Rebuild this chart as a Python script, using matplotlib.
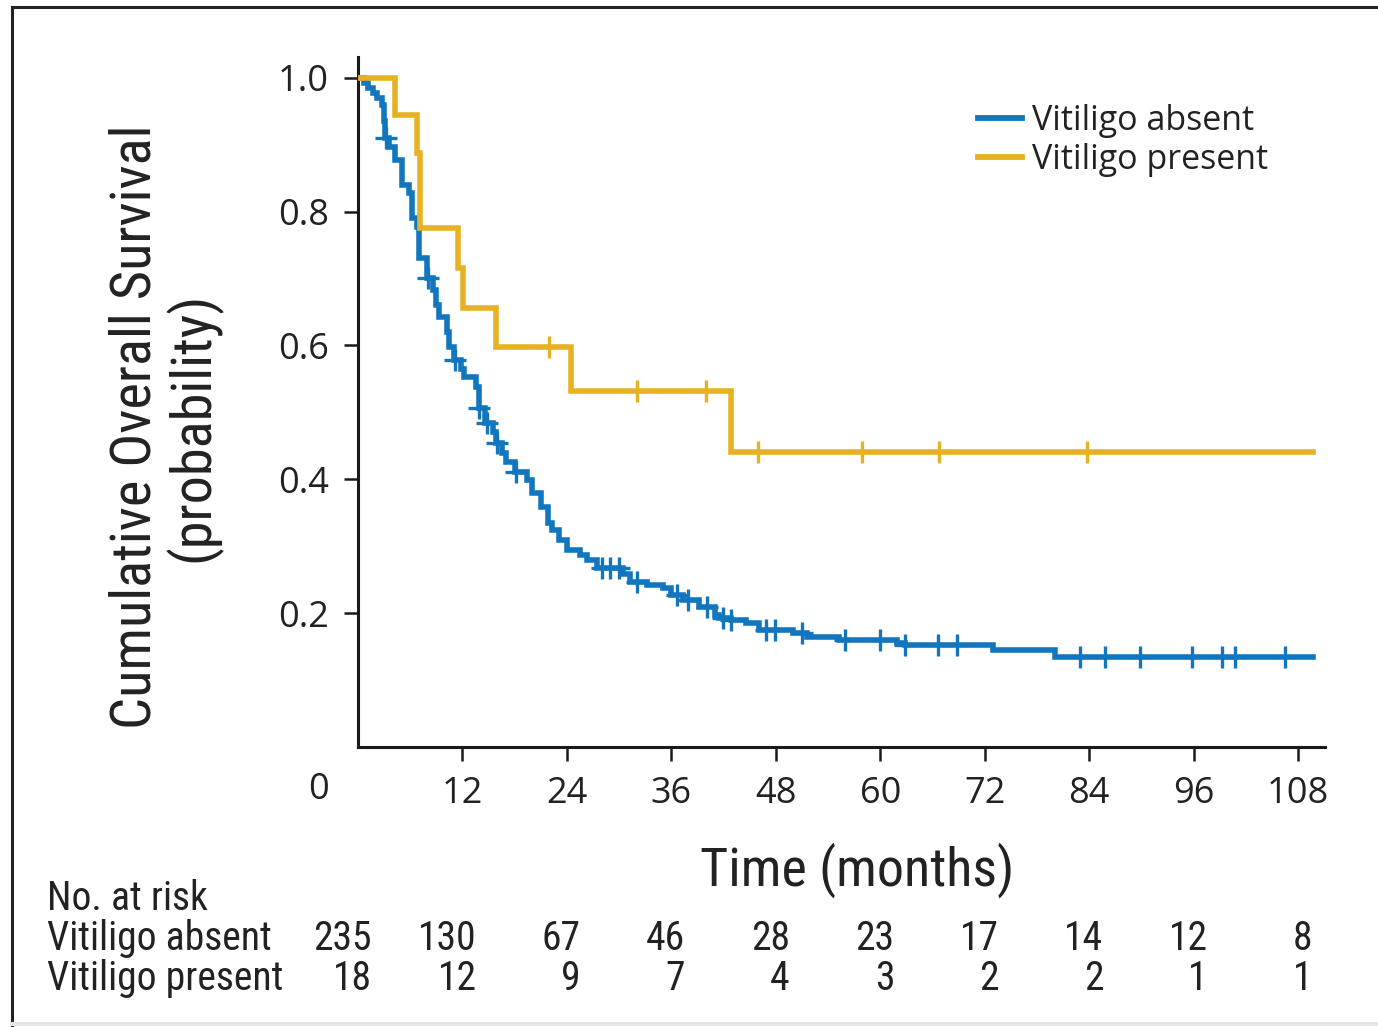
import numpy as np
import matplotlib
matplotlib.use("Agg")
import matplotlib.pyplot as plt
from matplotlib.lines import Line2D
import matplotlib.transforms as mtransforms
from matplotlib import font_manager as fm

# ---------------- data ----------------
absent_t = [0.0, 0.7, 1.2, 1.7, 2.2, 2.7, 3.0, 3.1, 3.6, 4.2, 5.0, 5.1, 5.9, 6.2, 6.8, 7.0,
            7.9, 8.6, 9.0, 9.3, 10.2, 10.5, 11.0, 11.8, 12.2, 13.6, 13.9, 14.6, 15.5, 15.9,
            16.5, 17.0, 18.0, 19.4, 20.0, 21.0, 21.8, 22.3, 23.1, 24.0, 25.5, 26.3, 27.5,
            30.5, 31.2, 33.2, 35.0, 36.0, 37.3, 39.2, 41.0, 41.5, 42.9, 44.6, 46.1, 50.0,
            51.6, 55.3, 61.9, 62.8, 72.9, 80.1, 109.7]
absent_s = [1.000, 0.992, 0.985, 0.977, 0.970, 0.960, 0.935, 0.910, 0.897, 0.877, 0.867, 0.840,
            0.828, 0.790, 0.777, 0.731, 0.701, 0.683, 0.660, 0.643, 0.620, 0.598, 0.578, 0.565,
            0.553, 0.538, 0.507, 0.484, 0.470, 0.454, 0.440, 0.426, 0.411, 0.399, 0.380, 0.359,
            0.335, 0.324, 0.309, 0.294, 0.287, 0.280, 0.268, 0.258, 0.247, 0.242, 0.238, 0.227,
            0.220, 0.209, 0.197, 0.193, 0.190, 0.185, 0.175, 0.170, 0.164, 0.160, 0.156, 0.152,
            0.145, 0.135, 0.135]
absent_cens = [3.2, 8.0, 11.1, 13.9, 14.8, 16.0, 18.1, 28.0, 28.9, 30.0, 32.0, 36.6, 37.9,
               40.1, 41.9, 42.9, 46.9, 47.9, 51.0, 55.9, 60.0, 62.8, 66.6, 68.8, 82.9, 85.8,
               89.8, 95.8, 99.3, 100.8, 106.5]

present_t = [0.0, 4.3, 6.8, 7.1, 11.5, 12.1, 15.9, 24.5, 42.8, 109.7]
present_s = [1.000, 0.944, 0.888, 0.776, 0.716, 0.656, 0.598, 0.532, 0.441, 0.441]
present_cens = [22.0, 32.0, 40.0, 45.9, 57.9, 66.8, 83.8]

x_ticks = [12, 24, 36, 48, 60, 72, 84, 96, 108]
y_ticks = [0.2, 0.4, 0.6, 0.8, 1.0]
risk_times = [0, 12, 24, 36, 48, 60, 72, 84, 96, 108]
risk_absent = [235, 130, 67, 46, 28, 23, 17, 14, 12, 8]
risk_present = [18, 12, 9, 7, 4, 3, 2, 2, 1, 1]
series_labels = ["Vitiligo absent", "Vitiligo present"]

BLUE = "#1276bf"
YELLOW = "#e6b224"
TXT = "#222222"

# pick a condensed family if one is available, else Liberation Sans
_names = {f.name for f in fm.fontManager.ttflist}
_cond = {}
for cand in ["Liberation Sans Narrow", "Roboto Condensed", "Open Sans Condensed",
             "DejaVu Sans Condensed"]:
    if cand in _names:
        _cond = {"family": [cand, "DejaVu Sans"]}
        break
if not _cond:
    if any(f.name == "DejaVu Sans" and f.stretch in ("condensed", "semi-condensed")
           for f in fm.fontManager.ttflist):
        _cond = {"family": ["DejaVu Sans"], "fontstretch": "condensed"}
    else:
        _cond = {"family": ["Liberation Sans", "DejaVu Sans"]}
COND = _cond
REG = ["Open Sans", "DejaVu Sans"]

W, H = 1378, 1027
fig = plt.figure(figsize=(W / 100, H / 100), dpi=100)
fig.patch.set_facecolor("white")

ax = fig.add_axes([358 / W, 1 - 747 / H, (1325 - 358) / W, (747 - 57) / H])


def step_value(t_arr, s_arr, t):
    idx = np.searchsorted(np.asarray(t_arr), t, side="right") - 1
    return np.asarray(s_arr)[idx]


for t_arr, s_arr, cens, col in [(absent_t, absent_s, absent_cens, BLUE),
                                (present_t, present_s, present_cens, YELLOW)]:
    ax.plot(t_arr, s_arr, drawstyle="steps-post", color=col, lw=4.0,
            solid_joinstyle="miter", zorder=3)
    cy = [step_value(t_arr, s_arr, c) for c in cens]
    ax.plot(cens, cy, linestyle="none", marker="+", color=col, markersize=16,
            markeredgewidth=2.4, zorder=4)

ax.set_xlim(0, 111.1)
ax.set_ylim(0, 1.031)
ax.set_xticks(x_ticks)
ax.set_yticks(y_ticks)
ax.set_yticklabels([f"{v:.1f}" for v in y_ticks])
for sp in ["top", "right"]:
    ax.spines[sp].set_visible(False)
for sp in ["left", "bottom"]:
    ax.spines[sp].set_linewidth(2.2)
    ax.spines[sp].set_color("#1a1a1a")
ax.tick_params(axis="both", direction="out", length=10, width=1.8, color="#1a1a1a",
               labelsize=26, labelcolor=TXT)
ax.tick_params(axis="x", pad=11)
ax.tick_params(axis="y", pad=11)
for lab in ax.get_xticklabels() + ax.get_yticklabels():
    lab.set_family(REG)

fig.text(318 / W, 1 - 790 / H, "0", ha="center", va="center", fontsize=26,
         family=REG, color=TXT)

ylab = fig.text(165 / W, 1 - 427 / H, "Cumulative Overall Survival\n(probability)",
                rotation=90, ha="center", va="center", multialignment="center",
                fontsize=42, color=TXT, linespacing=1.05, **COND)
xlab = fig.text(857 / W, 1 - 870 / H, "Time (months)", ha="center", va="center",
                fontsize=42, color=TXT, **COND)

handles = [Line2D([], [], color=BLUE, lw=4.2), Line2D([], [], color=YELLOW, lw=4.2)]
leg = ax.legend(handles, series_labels, loc="upper left",
                bbox_to_anchor=(978 / W, 1 - 104 / H), bbox_transform=fig.transFigure,
                frameon=False, prop={"family": REG, "size": 24.5}, handlelength=1.3,
                handletextpad=0.3, labelspacing=0.15, borderpad=0, borderaxespad=0)
for txt in leg.get_texts():
    txt.set_color(TXT)

# risk table
risk_texts = []
risk_texts.append(fig.text(47 / W, 1 - 898 / H, "No. at risk", ha="left", va="center",
                           fontsize=31, color=TXT, **COND))
lab_abs = fig.text(47 / W, 1 - 938 / H, series_labels[0], ha="left", va="center",
                   fontsize=31, color=TXT, **COND)
lab_pre = fig.text(47 / W, 1 - 978 / H, series_labels[1], ha="left", va="center",
                   fontsize=31, color=TXT, **COND)
risk_texts += [lab_abs, lab_pre]
trans = mtransforms.blended_transform_factory(ax.transData, fig.transFigure)
offs = mtransforms.ScaledTranslation(14 / 100, 0, fig.dpi_scale_trans)
for t, a, p in zip(risk_times, risk_absent, risk_present):
    risk_texts.append(ax.text(t, 1 - 938 / H, str(a), transform=trans + offs, ha="right",
                              va="center", fontsize=31, color=TXT, clip_on=False, **COND))
    risk_texts.append(ax.text(t, 1 - 978 / H, str(p), transform=trans + offs, ha="right",
                              va="center", fontsize=31, color=TXT, clip_on=False, **COND))

# fit font sizes to the reference's text extents
fig.canvas.draw()
r = fig.canvas.get_renderer()
h_y = ylab.get_window_extent(r).height
ylab.set_fontsize(42 * 605 / h_y)
w_x = xlab.get_window_extent(r).width
xlab.set_fontsize(42 * 315 / w_x)
w_r = lab_pre.get_window_extent(r).width
fs_r = 31 * 236 / w_r
for t in risk_texts:
    t.set_fontsize(fs_r)

# figure frame (top and left edges visible)
fig.add_artist(Line2D([12 / W, 12 / W], [0, 1 - 7 / H], transform=fig.transFigure,
                      color=TXT, lw=2.2))
fig.add_artist(Line2D([12 / W, 1], [1 - 7 / H, 1 - 7 / H], transform=fig.transFigure,
                      color=TXT, lw=2.2))
fig.add_artist(Line2D([12 / W, 1], [1 - 1024 / H, 1 - 1024 / H], transform=fig.transFigure,
                      color="#e6e6e6", lw=3))

fig.savefig("out.png", dpi=100, facecolor="white")
